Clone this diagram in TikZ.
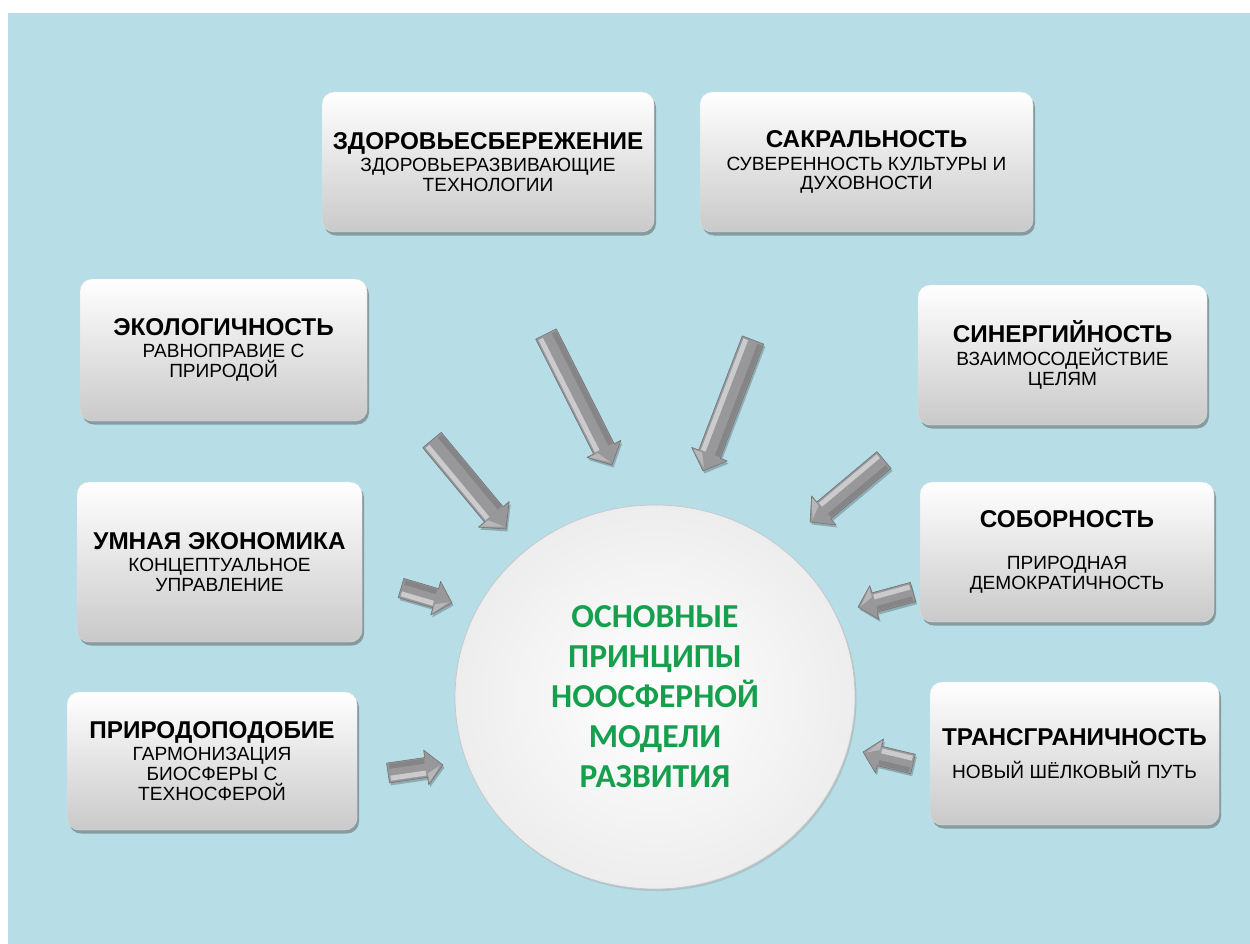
\documentclass[tikz,border=0pt]{standalone}
\usepackage{fontspec}
\setmainfont{Liberation Sans}
\newfontfamily\calibfont{Carlito}
\usetikzlibrary{shapes.geometric,shadows,calc}
\definecolor{bgblue}{RGB}{183,221,230}
\definecolor{mygreen}{RGB}{22,160,78}
\definecolor{metalgray}{RGB}{152,152,155}
\newcommand\boxttl{\bfseries\fontsize{24.3}{27}\selectfont}
\newcommand\boxsub{\fontsize{19.1}{19.8}\selectfont}
% tail, tip, half shaft, half head, head length
\newcommand\metalarrow[5]{%
  \pgfmathanglebetweenpoints{\pgfpointanchor{#1}{center}}{\pgfpointanchor{#2}{center}}%
  \let\marang\pgfmathresult
  \pgfpointdiff{\pgfpointanchor{#1}{center}}{\pgfpointanchor{#2}{center}}%
  \pgfgetlastxy{\marx}{\mary}%
  \pgfmathsetmacro\marlen{veclen(\marx,\mary)}%
  \pgfmathsetmacro\marb{\marlen-#5}%
  \begin{scope}[shift={(#1)}, shift={(1.5,2.5)}, rotate=\marang]
    \fill[black, opacity=0.22] (0,-#3) -- (\marb,-#3) -- (\marb,-#4) -- (\marlen,0)
      -- (\marb,#4) -- (\marb,#3) -- (0,#3) -- cycle;
  \end{scope}
  \begin{scope}[shift={(#1)}, rotate=\marang]
    \fill[metalgray] (0,-#3) -- (\marb,-#3) -- (\marb,-#4) -- (\marlen,0)
      -- (\marb,#4) -- (\marb,#3) -- (0,#3) -- cycle;
    \fill[white, opacity=0.5] (2,#3-2) -- (\marb-1,#3-2) -- (\marb-1,#3-7) -- (2,#3-7) -- cycle;
    \fill[white, opacity=0.3] (\marb+1,#4-2) -- (\marlen-3,0) -- (\marb+1,#3-4) -- cycle;
    \fill[black, opacity=0.12] (2,-#3+1) -- (\marb-1,-#3+1) -- (\marb-1,-#3+6) -- (2,-#3+6) -- cycle;
    \draw[black!55, line width=0.6pt, line join=round] (0,-#3) -- (\marb,-#3) -- (\marb,-#4) -- (\marlen,0)
      -- (\marb,#4) -- (\marb,#3) -- (0,#3) -- cycle;
  \end{scope}}
\begin{document}
\begin{tikzpicture}[x=1pt,y=-1pt,
  pbox/.style={rectangle, rounded corners=12pt, align=center, inner sep=2pt,
    top color=white, middle color=white!96!black, bottom color=black!21,
    draw=black!12, line width=0.4pt,
    drop shadow={opacity=0.45, shadow xshift=2pt, shadow yshift=-3.5pt, fill=black!70},
    font=\boxsub}
]
\useasboundingbox (0,0) rectangle (1250,944);
\fill[white] (0,0) rectangle (1250,944);
\fill[bgblue] (8,13) rectangle (1250,944);

% central ellipse
\node[ellipse, minimum width=400, minimum height=384, inner color=white, outer color=black!7,
  draw=black!22, line width=0.7pt, drop shadow={opacity=0.25, shadow xshift=1.5pt, shadow yshift=-2pt},
  align=center, font=\calibfont\bfseries\fontsize{33.5}{40}\selectfont, text=mygreen]
  (core) at (655,697) {ОСНОВНЫЕ\\ПРИНЦИПЫ\\НООСФЕРНОЙ\\МОДЕЛИ\\РАЗВИТИЯ};

% boxes
\node[pbox, minimum width=332, minimum height=140] (zdr) at (488,162)
  {{\boxttl ЗДОРОВЬЕСБЕРЕЖЕНИЕ}\\[3pt]ЗДОРОВЬЕРАЗВИВАЮЩИЕ\\ТЕХНОЛОГИИ};
\node[pbox, minimum width=333, minimum height=140] (sak) at (866.5,162)
  {{\boxttl САКРАЛЬНОСТЬ}\\[3pt]СУВЕРЕННОСТЬ КУЛЬТУРЫ И\\ДУХОВНОСТИ};
\node[pbox, minimum width=287, minimum height=142] (eco) at (223.5,350)
  {{\boxttl ЭКОЛОГИЧНОСТЬ}\\[2pt]РАВНОПРАВИЕ С\\ПРИРОДОЙ};
\node[pbox, minimum width=289, minimum height=140] (syn) at (1062.5,355)
  {{\boxttl СИНЕРГИЙНОСТЬ}\\[3pt]ВЗАИМОСОДЕЙСТВИЕ\\ЦЕЛЯМ};
\node[pbox, minimum width=285, minimum height=160] (umn) at (219.5,562)
  {{\boxttl УМНАЯ ЭКОНОМИКА}\\[2pt]КОНЦЕПТУАЛЬНОЕ\\УПРАВЛЕНИЕ};
\node[pbox, minimum width=294, minimum height=140] (sob) at (1067,552)
  {{\boxttl СОБОРНОСТЬ}\\[22pt]ПРИРОДНАЯ\\ДЕМОКРАТИЧНОСТЬ};
\node[pbox, minimum width=290, minimum height=138] (pri) at (212,761)
  {{\boxttl ПРИРОДОПОДОБИЕ}\\[2pt]ГАРМОНИЗАЦИЯ\\БИОСФЕРЫ С\\ТЕХНОСФЕРОЙ};
\node[pbox, minimum width=289, minimum height=143] (tra) at (1074.5,753.5)
  {{\boxttl ТРАНСГРАНИЧНОСТЬ}\\[13pt]НОВЫЙ ШЁЛКОВЫЙ ПУТЬ};

% arrow end points
\coordinate (a1s) at (432,440);  \coordinate (a1t) at (506,529);
\coordinate (a2s) at (546,334);  \coordinate (a2t) at (612,465);
\coordinate (a3s) at (753,340);  \coordinate (a3t) at (703,471);
\coordinate (a4s) at (884,460);  \coordinate (a4t) at (810,522);
\coordinate (a5s) at (913,592);  \coordinate (a5t) at (858,607);
\coordinate (a6s) at (913,764);  \coordinate (a6t) at (863,752);
\coordinate (a7s) at (401,588);  \coordinate (a7t) at (452,603);
\coordinate (a8s) at (388,773);  \coordinate (a8t) at (443,765);

\metalarrow{a1s}{a1t}{12}{20}{19}
\metalarrow{a2s}{a2t}{11.5}{19}{18}
\metalarrow{a3s}{a3t}{11.5}{19}{18}
\metalarrow{a4s}{a4t}{11}{19}{18}
\metalarrow{a5s}{a5t}{10}{17.5}{17}
\metalarrow{a6s}{a6t}{10}{17.5}{17}
\metalarrow{a7s}{a7t}{10}{17.5}{17}
\metalarrow{a8s}{a8t}{10}{17.5}{17}
\end{tikzpicture}
\end{document}
